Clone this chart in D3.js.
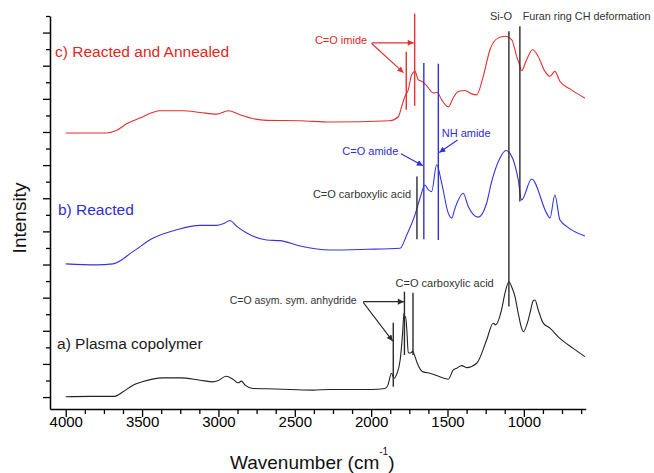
<!DOCTYPE html>
<html>
<head>
<meta charset="utf-8">
<script src="https://cdn.jsdelivr.net/npm/d3@7"></script>
<style>
  html, body { margin: 0; padding: 0; background: #fff; }
  svg { display: block; font-family: "Liberation Sans", Arial, sans-serif; }
</style>
</head>
<body>
<svg id="chart" width="654" height="473"></svg>
<script>
// FTIR spectra: [wavenumber (cm-1), offset intensity (a.u.)]
const plasmaCopolymer = [
  [4000,0.01],[3840,0.02],[3680,0.02],[3625,0.16],[3560,0.36],[3500,0.46],[3365,0.58],
  [3250,0.58],[3120,0.51],[3035,0.46],[3005,0.49],[2950,0.63],[2905,0.54],[2870,0.43],
  [2850,0.48],[2825,0.36],[2775,0.26],[2680,0.25],[2530,0.23],[2380,0.21],[2270,0.23],
  [2000,0.23],[1910,0.26],[1890,0.36],[1867,0.72],[1850,0.57],[1832,0.70],[1810,1.12],
  [1794,1.93],[1785,2.53],[1779,2.40],[1774,2.42],[1766,2.00],[1757,1.34],[1742,1.33],
  [1728,1.38],[1715,1.25],[1698,1.02],[1660,0.76],[1615,0.72],[1517,0.56],[1495,0.54],
  [1462,0.82],[1440,0.87],[1407,0.95],[1375,0.89],[1309,1.02],[1244,1.72],[1201,2.23],
  [1185,2.18],[1146,2.63],[1124,3.13],[1098,3.48],[1080,3.33],[1058,3.03],[1037,2.53],
  [1015,2.08],[1004,1.97],[971,2.33],[960,2.53],[939,2.90],[927,2.93],[906,2.63],
  [873,2.23],[829,2.08],[764,1.77],[677,1.47],[600,1.22]
];
const reacted = [
  [4000,4.02],[3800,3.99],[3690,4.02],[3560,4.39],[3430,4.79],[3273,5.05],[3120,5.18],
  [3012,5.18],[2965,5.24],[2925,5.33],[2880,5.15],[2815,4.95],[2684,4.74],[2597,4.72],
  [2466,4.56],[2270,4.44],[2029,4.46],[1811,4.49],[1767,4.89],[1713,5.50],[1680,6.00],
  [1648,6.40],[1625,6.25],[1604,6.20],[1571,7.01],[1538,6.46],[1495,5.55],[1473,5.40],
  [1451,5.70],[1397,6.15],[1364,5.75],[1299,5.43],[1244,5.85],[1211,6.50],[1157,7.21],
  [1117,7.44],[1070,7.16],[1037,6.56],[1015,5.95],[949,6.58],[851,5.55],[829,5.40],
  [797,6.10],[764,5.35],[720,5.15],[600,4.86]
];
const reactedAnnealed = [
  [4000,7.97],[3732,7.97],[3666,8.05],[3601,8.25],[3514,8.42],[3383,8.64],[3230,8.64],
  [3121,8.59],[3012,8.54],[2936,8.64],[2859,8.52],[2772,8.40],[2684,8.35],[2466,8.34],
  [2270,8.30],[1877,8.34],[1822,8.46],[1800,8.77],[1779,9.07],[1757,9.27],[1735,9.73],
  [1713,9.83],[1692,9.58],[1669,9.53],[1637,9.40],[1593,9.18],[1567,9.19],[1538,8.97],
  [1495,8.76],[1458,9.07],[1430,9.22],[1386,9.25],[1342,9.15],[1309,9.12],[1266,9.68],
  [1222,10.48],[1168,10.84],[1124,10.89],[1080,10.79],[1047,10.28],[1030,10.05],
  [1015,9.85],[982,10.18],[943,10.48],[906,10.28],[862,9.83],[829,9.68],[797,9.83],
  [764,9.53],[698,9.30],[600,9.02]
];

// Series names and label anchors (wavenumber, intensity of text baseline)
const seriesNames = ["a) Plasma copolymer", "b) Reacted", "c) Reacted and Annealed"];
const seriesLabelAt = [[4057, 1.44], [4051, 5.48], [4070, 10.27]];

// Band assignment markers: wavenumber and intensity span
const bandLines = [
  { wn: 1098, from: 2.73, to: 11.04, tone: "ink" },   // Si-O
  { wn: 1026, from: 5.90, to: 11.19, tone: "ink" },   // furan ring CH
  { wn: 1715, from: 8.79, to: 11.57, tone: "red" },   // imide
  { wn: 1770, from: 8.67, to: 10.42, tone: "red" },   // imide
  { wn: 1655, from: 4.76, to: 10.08, tone: "blue" },  // C=O amide
  { wn: 1560, from: 4.74, to: 10.06, tone: "blue" },  // NH amide
  { wn: 1700, from: 4.76, to: 6.66, tone: "ink" },    // carboxylic acid (b)
  { wn: 1855, from: 0.31, to: 2.24, tone: "ink" },    // anhydride
  { wn: 1782, from: 1.27, to: 3.18, tone: "ink" },    // anhydride / acid
  { wn: 1726, from: 1.27, to: 3.15, tone: "ink" }     // carboxylic acid (a)
];

// Pointer arrows: start and tip in (wavenumber, intensity)
const pointers = [
  { from: [1997, 10.69], to: [1721, 10.69], tone: "red" },
  { from: [1997, 10.67], to: [1788, 9.79], tone: "red" },
  { from: [1805, 7.34], to: [1661, 6.98], tone: "blue" },
  { from: [1434, 7.76], to: [1554, 7.38], tone: "blue" },
  { from: [2052, 2.88], to: [1786, 2.88], tone: "ink" },
  { from: [2052, 2.86], to: [1859, 1.69], tone: "ink" }
];

// Band labels
const bandLabels = [
  { text: "Si-O", at: [1222, 11.39], anchor: "start", tone: "ink", size: 11 },
  { text: "Furan ring CH deformation", at: [1008, 11.39], anchor: "start", tone: "ink", size: 10.8 },
  { text: "C=O imide", at: [2026, 10.66], anchor: "end", tone: "red", size: 11 },
  { text: "C=O amide", at: [1822, 7.31], anchor: "end", tone: "blue", size: 11 },
  { text: "NH amide", at: [1538, 7.85], anchor: "start", tone: "blue", size: 11 },
  { text: "C=O carboxylic acid", at: [1739, 6.00], anchor: "end", tone: "ink", size: 11 },
  { text: "C=O carboxylic acid", at: [1840, 3.33], anchor: "start", tone: "ink", size: 11 },
  { text: "C=O asym. sym. anhydride", at: [2095, 2.81], anchor: "end", tone: "ink", size: 10.5 }
];

const xTickValues = d3.range(4000, 600, -125);
const yTickValues = d3.range(0, 11.75, 0.5);

const lineColors = ["#222222", "#3434dc", "#e5302f"];
const textColors = ["#1a1a1a", "#2e2ed4", "#e3261f"];
const tones = { ink: "#2a2a2a", red: "#e5302f", blue: "#3030d6" };
const labelTones = { ink: "#333333", red: "#e3261f", blue: "#2e2ed4" };

const svg = d3.select("#chart");
const x = d3.scaleLinear().domain([4103, 595]).range([50, 585.7]);
const y = d3.scaleLinear().domain([-0.36, 11.5]).range([409, 16]);

// arrowheads
const defs = svg.append("defs");
Object.entries(tones).forEach(([name, col]) => {
  defs.append("marker")
    .attr("id", "head-" + name)
    .attr("viewBox", "0 0 10 10")
    .attr("refX", 10).attr("refY", 5)
    .attr("markerWidth", 9).attr("markerHeight", 6)
    .attr("markerUnits", "userSpaceOnUse")
    .attr("orient", "auto")
    .append("path").attr("d", "M0,0L10,5L0,10Z").attr("fill", col);
});

// axes
const xAxis = d3.axisBottom(x)
  .tickValues(xTickValues)
  .tickSize(8)
  .tickSizeOuter(0)
  .tickFormat(d => d % 500 === 0 ? d : "");
const gx = svg.append("g").attr("transform", "translate(0,409)").call(xAxis);
gx.select(".domain").attr("stroke", "#000").attr("stroke-width", 1.5);
gx.selectAll(".tick line").attr("stroke", "#000").attr("stroke-width", 1.3)
  .attr("y2", d => d % 500 === 0 ? 8 : 5);
gx.selectAll(".tick text")
  .attr("y", 18.3).attr("dy", 0)
  .attr("fill", "#000")
  .style("font-size", "15px")
  .style("font-family", "'Liberation Sans', Arial, sans-serif");

const yAxis = d3.axisLeft(y)
  .tickValues(yTickValues)
  .tickSize(7)
  .tickSizeOuter(0)
  .tickFormat("");
const gy = svg.append("g").attr("transform", "translate(50,0)").call(yAxis);
gy.select(".domain").attr("stroke", "#000").attr("stroke-width", 1.5);
gy.selectAll(".tick line").attr("stroke", "#000").attr("stroke-width", 1.3)
  .attr("x2", d => Number.isInteger(d) ? -7 : -4);

// axis titles
svg.append("text")
  .attr("transform", "translate(26,218) rotate(-90)")
  .attr("text-anchor", "middle")
  .attr("fill", "#111")
  .style("font-size", "19px")
  .text("Intensity");

const xt = svg.append("text")
  .attr("x", 230).attr("y", 469)
  .attr("fill", "#111")
  .style("font-size", "19px");
xt.append("tspan").text("Wavenumber (cm");
xt.append("tspan").attr("dy", -14).style("font-size", "10px").text("-1");
xt.append("tspan").attr("dy", 14).text(")");

// spectra
const line = d3.line()
  .x(d => x(d[0]))
  .y(d => y(d[1]))
  .curve(d3.curveMonotoneX);

[plasmaCopolymer, reacted, reactedAnnealed].forEach((s, i) => {
  svg.append("path")
    .datum(s)
    .attr("d", line)
    .attr("fill", "none")
    .attr("stroke", lineColors[i])
    .attr("stroke-width", 1.1)
    .attr("stroke-linejoin", "round");
});

// series labels
seriesNames.forEach((name, i) => {
  svg.append("text")
    .attr("x", x(seriesLabelAt[i][0]))
    .attr("y", y(seriesLabelAt[i][1]))
    .attr("fill", textColors[i])
    .style("font-size", "15.5px")
    .text(name);
});

// band assignment lines
svg.append("g").selectAll("line")
  .data(bandLines)
  .join("line")
  .attr("x1", d => x(d.wn)).attr("x2", d => x(d.wn))
  .attr("y1", d => y(d.to)).attr("y2", d => y(d.from))
  .attr("stroke", d => tones[d.tone])
  .attr("stroke-width", 1.4);

// pointer arrows
svg.append("g").selectAll("line")
  .data(pointers)
  .join("line")
  .attr("x1", d => x(d.from[0])).attr("y1", d => y(d.from[1]))
  .attr("x2", d => x(d.to[0])).attr("y2", d => y(d.to[1]))
  .attr("stroke", d => tones[d.tone])
  .attr("stroke-width", 1.1)
  .attr("marker-end", d => "url(#head-" + d.tone + ")");

// band labels
svg.append("g").selectAll("text")
  .data(bandLabels)
  .join("text")
  .attr("x", d => x(d.at[0]))
  .attr("y", d => y(d.at[1]))
  .attr("text-anchor", d => d.anchor)
  .attr("fill", d => labelTones[d.tone])
  .style("font-size", d => d.size + "px")
  .text(d => d.text);
</script>
</body>
</html>
